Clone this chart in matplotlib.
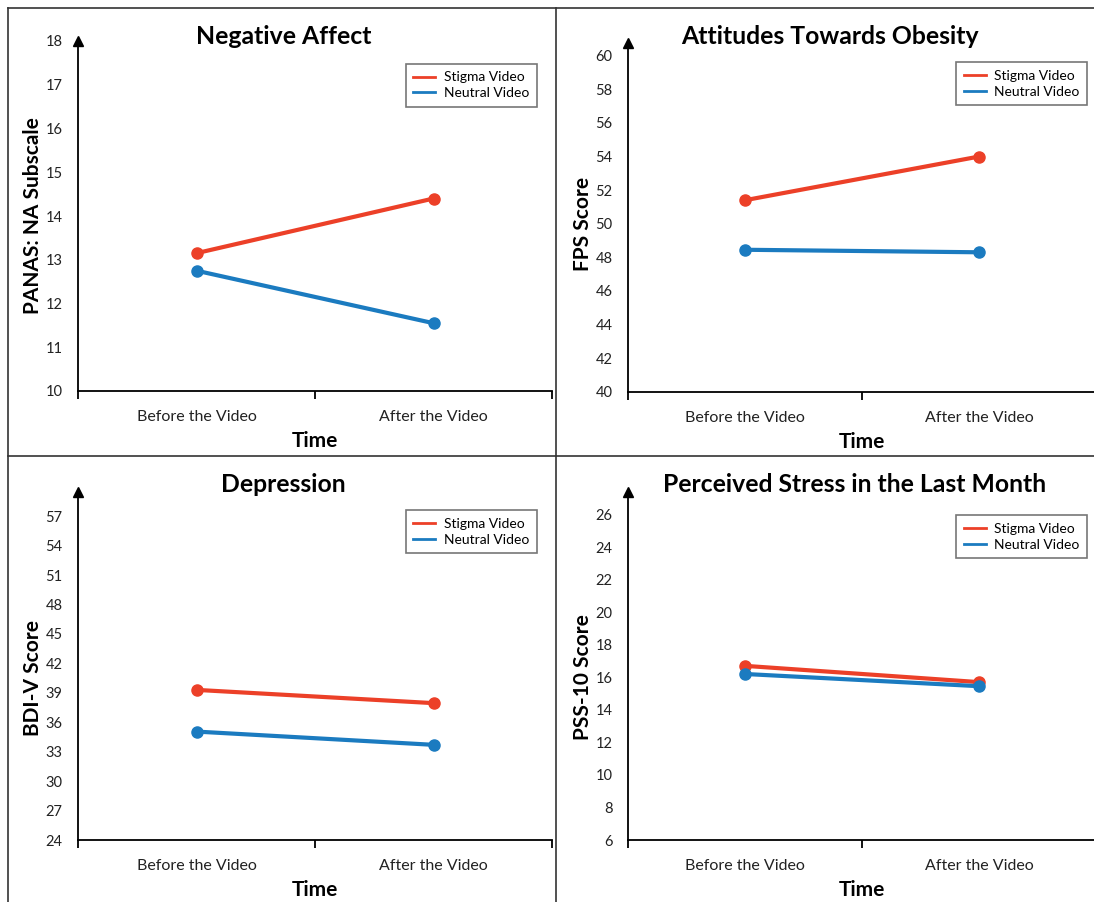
import matplotlib
matplotlib.use("Agg")
import matplotlib.pyplot as plt
from matplotlib.lines import Line2D

plt.rcParams['font.family'] = ['Lato', 'DejaVu Sans']

# ---------------- data ----------------
times = ["Before the Video", "After the Video"]
series_names = ["Stigma Video", "Neutral Video"]

titles = ["Negative Affect", "Attitudes Towards Obesity", "Depression",
          "Perceived Stress in the Last Month"]
ylabels = ["PANAS: NA Subscale", "FPS Score", "BDI-V Score", "PSS-10 Score"]

na_stigma = [13.15, 14.4]
na_neutral = [12.75, 11.55]
fps_stigma = [51.4, 54.0]
fps_neutral = [48.45, 48.3]
bdi_stigma = [39.3, 37.95]
bdi_neutral = [35.05, 33.7]
pss_stigma = [16.7, 15.7]
pss_neutral = [16.2, 15.45]

yticks_na = [10, 11, 12, 13, 14, 15, 16, 17, 18]
yticks_fps = [40, 42, 44, 46, 48, 50, 52, 54, 56, 58, 60]
yticks_bdi = [24, 27, 30, 33, 36, 39, 42, 45, 48, 51, 54, 57]
yticks_pss = [6, 8, 10, 12, 14, 16, 18, 20, 22, 24, 26]

# ---------------- layout ----------------
W, H = 1094, 902
RED = "#EC4028"
BLUE = "#1B7BC0"

fig = plt.figure(figsize=(W / 100, H / 100), dpi=100)

def fline(x0, y0, x1, y1):
    fig.add_artist(Line2D([x0 / W, x1 / W], [1 - y0 / H, 1 - y1 / H],
                          color="#333333", lw=1.2, transform=fig.transFigure))

fline(8, 8, W, 8)
fline(8, 8, 8, H)
fline(556, 8, 556, H)
fline(8, 456, W, 456)

panels = [
    dict(l=78, r=552, b=391, t=41, hi=18.0, stig=na_stigma, neut=na_neutral,
         ticks=yticks_na, leg=(0.968, 0.935), tx=284, ty=37),
    dict(l=628, r=1096, b=391.7, t=43, hi=60.76, stig=fps_stigma, neut=fps_neutral,
         ticks=yticks_fps, leg=(0.981, 0.945), tx=830, ty=37),
    dict(l=78, r=552, b=840, t=491.7, hi=59.5, stig=bdi_stigma, neut=bdi_neutral,
         ticks=yticks_bdi, leg=(0.968, 0.947), tx=283, ty=484),
    dict(l=628, r=1096, b=840, t=491.7, hi=27.4, stig=pss_stigma, neut=pss_neutral,
         ticks=yticks_pss, leg=(0.981, 0.933), tx=855, ty=484),
]

xpos = [0.5, 1.5]

for i, p in enumerate(panels):
    ax = fig.add_axes([p['l'] / W, 1 - p['b'] / H, (p['r'] - p['l']) / W,
                       (p['b'] - p['t']) / H])
    lo = p['ticks'][0]
    ax.set_ylim(lo, p['hi'])
    ax.set_xlim(0, 2)
    ax.plot(xpos, p['stig'], color=RED, lw=3, marker='o', ms=8,
            label=series_names[0], solid_capstyle='round')
    ax.plot(xpos, p['neut'], color=BLUE, lw=3, marker='o', ms=8,
            label=series_names[1], solid_capstyle='round')

    for s in ['top', 'right']:
        ax.spines[s].set_visible(False)
    for s in ['left', 'bottom']:
        ax.spines[s].set_linewidth(1.3)
        ax.spines[s].set_color('black')
    ax.patch.set_alpha(0)
    ax.plot(0, 1, marker='^', color='black', ms=7, transform=ax.transAxes,
            clip_on=False)

    ax.set_yticks(p['ticks'])
    ax.tick_params(axis='y', length=0, pad=11, labelsize=10.5, labelcolor='#222222')
    ax.set_xticks(xpos)
    ax.set_xticklabels(times)
    ax.tick_params(axis='x', which='major', length=0, pad=14, labelsize=11.5,
                   labelcolor='#222222')
    ax.set_xticks([0, 1, 2], minor=True)
    ax.tick_params(axis='x', which='minor', length=6, width=1.3, direction='out')

    fig.text(p['tx'] / W, 1 - p['ty'] / H, titles[i], fontsize=17.8,
             fontweight='bold', ha='center', va='center')
    ax.set_xlabel("Time", fontsize=15, fontweight='bold', labelpad=5)
    ax.set_ylabel(ylabels[i], fontsize=15, fontweight='bold')
    mid = ((p['ticks'][0] + p['ticks'][-1]) / 2 - lo) / (p['hi'] - lo)
    ax.yaxis.set_label_coords(-35 / (p['r'] - p['l']), mid)

    handles = [Line2D([0], [0], color=RED, lw=2), Line2D([0], [0], color=BLUE, lw=2)]
    leg = ax.legend(handles, series_names, loc='upper right', bbox_to_anchor=p['leg'],
                    fontsize=10, frameon=True, fancybox=False, edgecolor='#555555',
                    handlelength=1.6, handletextpad=0.6, borderpad=0.55,
                    labelspacing=0.28, borderaxespad=0)
    leg.get_frame().set_linewidth(1.2)

fig.savefig("out.png", dpi=100)
